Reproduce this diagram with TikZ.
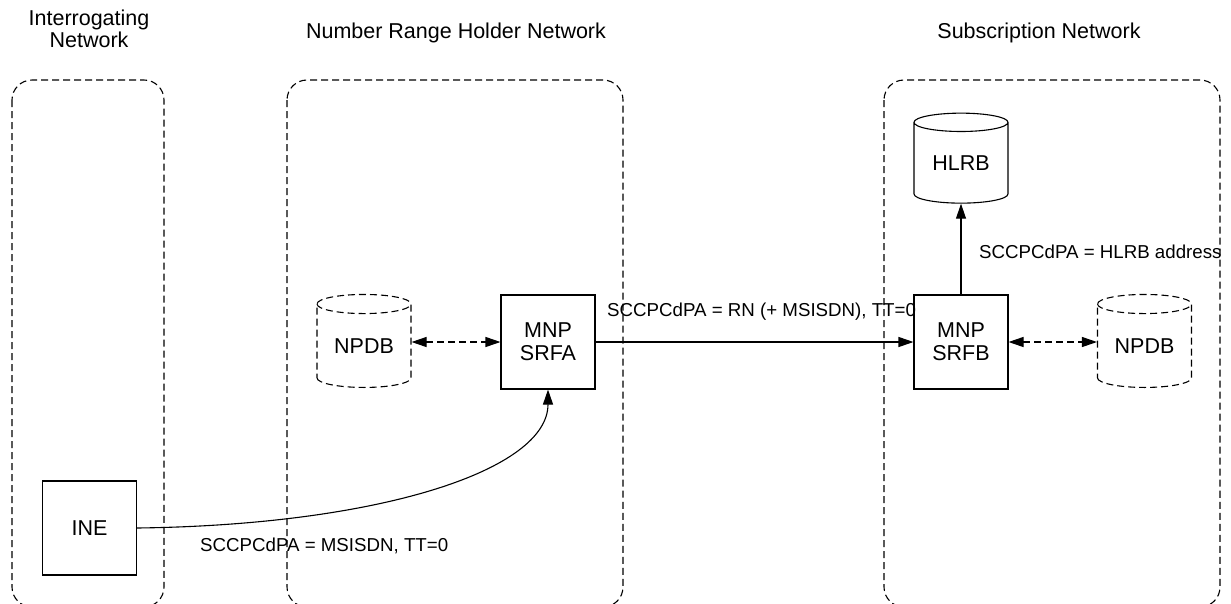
\documentclass[tikz,border=0pt]{standalone}
\usepackage{fontspec}
\setmainfont{Liberation Sans}
\usetikzlibrary{shapes.geometric,arrows.meta}

\begin{document}
\begin{tikzpicture}[x=1pt,y=-1pt,
    net/.style={draw,dashed,dash pattern=on 7pt off 4pt,rounded corners=20pt,line width=1.1pt},
    elem/.style={draw,line width=1.1pt,minimum width=94pt,minimum height=94pt,align=center,
      font=\fontsize{21.5}{23}\selectfont,inner sep=0pt},
    db/.style={draw,cylinder,shape border rotate=90,aspect=0.32,line width=1.1pt,
      minimum width=94pt,minimum height=93pt,font=\fontsize{21.5}{23}\selectfont,inner sep=0pt},
    title/.style={align=center,font=\fontsize{21.5}{22}\selectfont},
    msg/.style={anchor=west,inner sep=0pt,font=\fontsize{18.7}{20}\selectfont},
    tip/.style={line width=1.1pt,-{Triangle[length=15pt,width=10pt]}},
    both/.style={tip,{Triangle[length=15pt,width=10pt]}-{Triangle[length=15pt,width=10pt]},
      dashed,dash pattern=on 7pt off 4pt}]
  \useasboundingbox (0,0) rectangle (1231,603);
  \clip (0,0) rectangle (1231,603);

  % networks
  \draw[net] (12,80) rectangle (164,607);
  \draw[net] (287,80) rectangle (623,607);
  \draw[net] (884,80) rectangle (1220,607);
  \node[title] (tint) at (89,29) {Interrogating\\Network};
  \node[title] (tnrh) at (456,33) {Number Range Holder Network};
  \node[title] (tsub) at (1039,33) {Subscription Network};

  % elements
  \node[elem] (ine) at (89.5,528) {INE};
  \node[db,dashed,dash pattern=on 7pt off 4pt] (npdba) at (364,346) {NPDB};
  \node[elem] (srfa) at (548,342) {MNP\\SRFA};
  \node[elem] (srfb) at (961,342) {MNP\\SRFB};
  \node[db,dashed,dash pattern=on 7pt off 4pt] (npdbb) at (1144.5,346) {NPDB};
  \node[db,minimum height=90pt] (hlrb) at (961,163) {HLRB};

  % messages
  \draw[both] (npdba.east |- srfa) -- (srfa);
  \draw[both] (srfb) -- (npdbb.west |- srfb);
  \draw[tip] (srfa) -- (srfb);
  \draw[tip] (srfb) -- (hlrb);
  \draw[tip] (ine.east) .. controls (380,525) and (548,470) .. (srfa.south);
  \node[msg] (m1) at (200,546) {SCCPCdPA = MSISDN, TT=0};
  \node[msg] (m2) at (607,312) {SCCPCdPA = RN (+ MSISDN), TT=0};
  \node[msg] (m3) at (979,252) {SCCPCdPA = HLRB address};
\end{tikzpicture}
\end{document}
